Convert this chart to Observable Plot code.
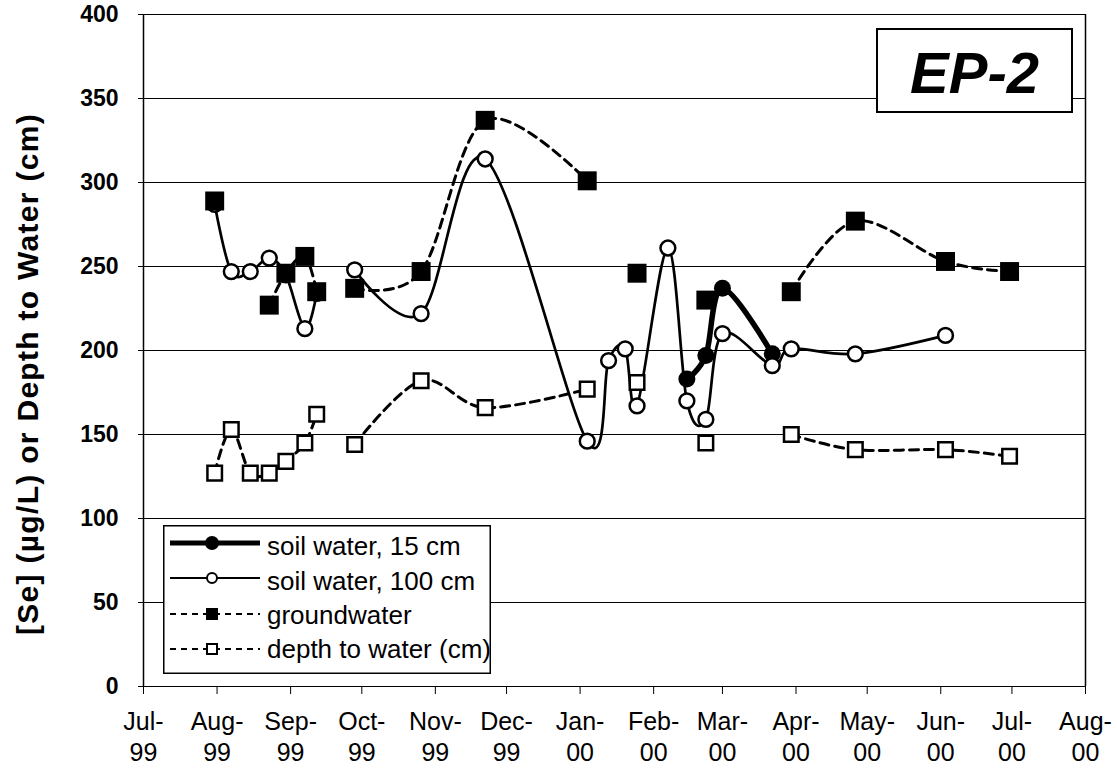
<!DOCTYPE html>
<html><head><meta charset="utf-8">
<script src="https://cdn.jsdelivr.net/npm/d3@7"></script>
<script src="https://cdn.jsdelivr.net/npm/@observablehq/plot@0.6"></script>
<style>
html,body{margin:0;padding:0;background:#fff;}
#wrap{position:relative;width:1117px;height:776px;font-family:"Liberation Sans",Arial,sans-serif;color:#000;}
#ytitle{position:absolute;left:28px;top:374px;transform:translate(-50%,-50%) rotate(-90deg);white-space:nowrap;font-weight:bold;font-size:30px;letter-spacing:1.3px;}
#ep2{position:absolute;left:876px;top:28px;width:197px;height:85px;box-sizing:border-box;border:2px solid #000;background:#fff;font-weight:bold;font-style:italic;font-size:58px;text-align:center;line-height:85px;}
#legend{position:absolute;left:163px;top:525px;}
</style></head>
<body>
<div id="wrap">
  <div id="chart"></div>
  <div id="ytitle">[Se] (µg/L) or Depth to Water (cm)</div>
  <div id="ep2">EP-2</div>
  <svg id="legend" width="330" height="150" font-family="Liberation Sans, Arial, sans-serif" font-size="26">
    <rect x="0.75" y="0.75" width="326.5" height="147.5" fill="#fff" stroke="#000" stroke-width="1.5"/>
    <line x1="7" x2="97" y1="18" y2="18" stroke="#000" stroke-width="5"/>
    <circle cx="49" cy="18" r="7" fill="#000"/>
    <text x="104" y="30">soil water, 15 cm</text>
    <line x1="7" x2="97" y1="53" y2="53" stroke="#000" stroke-width="2"/>
    <circle cx="49" cy="53" r="5" fill="#fff" stroke="#000" stroke-width="2"/>
    <text x="104" y="65">soil water, 100 cm</text>
    <line x1="7" x2="97" y1="89" y2="89" stroke="#000" stroke-width="2" stroke-dasharray="6,5"/>
    <rect x="43" y="83" width="12" height="12" fill="#000"/>
    <text x="104" y="99">groundwater</text>
    <line x1="7" x2="97" y1="124" y2="124" stroke="#000" stroke-width="2" stroke-dasharray="6,5"/>
    <rect x="44" y="119" width="10" height="10" fill="#fff" stroke="#000" stroke-width="2"/>
    <text x="104" y="133">depth to water (cm)</text>
  </svg>
</div>
<script>
// ---- data ----
const xDomainDates = ["1999-07-01", "2000-08-01"];
const tickDates = ["1999-07-01","1999-08-01","1999-09-01","1999-10-01","1999-11-01","1999-12-01","2000-01-01","2000-02-01","2000-03-01","2000-04-01","2000-05-01","2000-06-01","2000-07-01","2000-08-01"];
const tickLabels = ["Jul-\n99","Aug-\n99","Sep-\n99","Oct-\n99","Nov-\n99","Dec-\n99","Jan-\n00","Feb-\n00","Mar-\n00","Apr-\n00","May-\n00","Jun-\n00","Jul-\n00","Aug-\n00"];
const yTicks = [0, 50, 100, 150, 200, 250, 300, 350, 400];

const sw15Dates = ["2000-02-15","2000-02-23","2000-03-01","2000-03-22"];
const sw15Values = [183, 197, 237, 198];

const sw100Dates = ["1999-07-31","1999-08-07","1999-08-15","1999-08-23","1999-08-30","1999-09-07","1999-09-12","1999-09-20","1999-09-28","1999-10-26","1999-11-22","2000-01-04","2000-01-13","2000-01-20","2000-01-25","2000-02-07","2000-02-15","2000-02-23","2000-03-01","2000-03-22","2000-03-30","2000-04-26","2000-06-03"];
const sw100Values = [287, 247, 247, 255, 245, 213, 234, null, 248, 222, 314, 146, 194, 201, 167, 261, 170, 159, 210, 191, 201, 198, 209];

const gwDates = ["1999-07-31","1999-08-15","1999-08-23","1999-08-30","1999-09-07","1999-09-12","1999-09-20","1999-09-28","1999-10-26","1999-11-22","2000-01-04","2000-01-13","2000-01-25","2000-02-07","2000-02-23","2000-03-22","2000-03-30","2000-04-26","2000-06-03","2000-06-30"];
const gwValues = [289, null, 227, 246, 256, 235, null, 237, 247, 337, 301, null, 246, null, 230, null, 235, 277, 253, 247];

const depthDates = ["1999-07-31","1999-08-07","1999-08-15","1999-08-23","1999-08-30","1999-09-07","1999-09-12","1999-09-20","1999-09-28","1999-10-26","1999-11-22","2000-01-04","2000-01-13","2000-01-25","2000-02-07","2000-02-23","2000-03-22","2000-03-30","2000-04-26","2000-06-03","2000-06-30"];
const depthValues = [127, 153, 127, 127, 134, 145, 162, null, 144, 182, 166, 177, null, 181, null, 145, null, 150, 141, 141, 137];

// ---- build ----
const rows = (ds, vs) => ds.map((d, i) => ({date: new Date(d), value: vs[i]}));
const sw15 = rows(sw15Dates, sw15Values);
const sw100 = rows(sw100Dates, sw100Values);
const gw = rows(gwDates, gwValues);
const depth = rows(depthDates, depthValues);
const xDomain = xDomainDates.map(d => new Date(d));
const ticks = tickDates.map(d => new Date(d));
const fmt = d => { const i = ticks.findIndex(t => +t === +d); return i >= 0 ? tickLabels[i] : ""; };
const dash = "9,6";

const chart = Plot.plot({
  width: 1117,
  height: 776,
  marginLeft: 143,
  marginRight: 32,
  marginTop: 14,
  marginBottom: 90,
  style: {fontFamily: "Liberation Sans, Arial, sans-serif", color: "#000", background: "transparent", overflow: "visible"},
  x: {type: "utc", domain: xDomain},
  y: {domain: [0, 400]},
  marks: [
    Plot.ruleY(yTicks, {stroke: "#000", strokeWidth: 1.2}),
    Plot.ruleX([xDomain[0], xDomain[1]], {y1: 0, y2: 400, stroke: "#000", strokeWidth: 1.5}),
    Plot.axisY({ticks: yTicks, tickSize: 5, tickPadding: 20, fontSize: 23, fontWeight: "bold", label: null}),
    Plot.axisX({ticks: ticks, tickFormat: fmt, tickSize: 8, tickPadding: 13, fontSize: 25,
      fontFamily: "Liberation Sans, Arial, sans-serif", lineHeight: 1.25, label: null}),
    // soil water 15 cm
    Plot.line(sw15, {x: "date", y: "value", curve: "cardinal", stroke: "#000", strokeWidth: 5.5}),
    Plot.dot(sw15, {x: "date", y: "value", r: 8.5, fill: "#000", stroke: "none"}),
    // soil water 100 cm
    Plot.line(sw100, {x: "date", y: "value", curve: "cardinal", stroke: "#000", strokeWidth: 2.7}),
    Plot.dot(sw100, {x: "date", y: "value", r: 7.4, fill: "#fff", stroke: "#000", strokeWidth: 2.5}),
    // groundwater
    Plot.line(gw, {x: "date", y: "value", curve: "cardinal", stroke: "#000", strokeWidth: 3, strokeDasharray: dash}),
    Plot.dot(gw, {x: "date", y: "value", symbol: "square", r: 10.7, fill: "#000", stroke: "none"}),
    // depth to water
    Plot.line(depth, {x: "date", y: "value", curve: "cardinal", stroke: "#000", strokeWidth: 3, strokeDasharray: dash}),
    Plot.dot(depth, {x: "date", y: "value", symbol: "square", r: 8.2, fill: "#fff", stroke: "#000", strokeWidth: 2.5})
  ]
});
document.getElementById("chart").appendChild(chart);
</script>
</body></html>
